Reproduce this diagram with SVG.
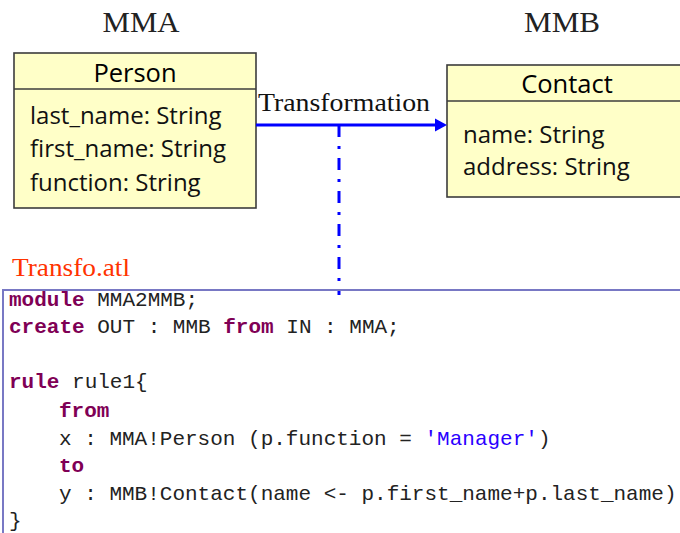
<svg xmlns="http://www.w3.org/2000/svg" width="680" height="533" viewBox="0 0 680 533">
<style>
.mm{font-family:"Liberation Serif",serif;font-size:30px;fill:#222;text-anchor:middle}
.box{fill:#ffffc8;stroke:#3c3c3c;stroke-width:1.6}
.hd{font-family:"Open Sans","Noto Sans",sans-serif;font-size:25.5px;fill:#000;text-anchor:middle}
.at{font-family:"Open Sans","Noto Sans",sans-serif;font-size:24px;fill:#111}
.code{font-family:"Liberation Mono",monospace;font-size:21px;fill:#222;white-space:pre}
.kw{fill:#7f0055;font-weight:bold}
.str{fill:#2a00ff}
</style>
<text class="mm" x="141" y="32" textLength="77" lengthAdjust="spacingAndGlyphs">MMA</text>
<text class="mm" x="562" y="32" textLength="76" lengthAdjust="spacingAndGlyphs">MMB</text>
<g id="person">
<rect class="box" x="14" y="53" width="242" height="155"/>
<line x1="14" y1="89" x2="256" y2="89" stroke="#3c3c3c" stroke-width="1.6"/>
<text class="hd" x="135" y="82">Person</text>
<text class="at" x="30" y="124">last_name: String</text>
<text class="at" x="30" y="157">first_name: String</text>
<text class="at" x="30" y="191">function: String</text>
</g>
<g id="contact">
<rect class="box" x="447" y="65" width="250" height="132"/>
<line x1="447" y1="101" x2="697" y2="101" stroke="#3c3c3c" stroke-width="1.6"/>
<text class="hd" x="567" y="93">Contact</text>
<text class="at" x="463" y="143">name: String</text>
<text class="at" x="463" y="175">address: String</text>
</g>
<g id="connectors">
<text x="258" y="111" font-family="Liberation Serif, serif" font-size="25" fill="#111" textLength="172" lengthAdjust="spacingAndGlyphs">Transformation</text>
<line x1="256" y1="125" x2="436" y2="125" stroke="#0000ff" stroke-width="3"/>
<polygon points="435,118.5 447,125 435,131.5" fill="#0000ff"/>
<line x1="339" y1="125" x2="339" y2="295" stroke="#0000ff" stroke-width="3" stroke-dasharray="12 9 3 9"/>
</g>
<g id="transfo">
<text x="12" y="276" font-family="Liberation Serif, serif" font-size="26" fill="#ff3300" textLength="118" lengthAdjust="spacingAndGlyphs">Transfo.atl</text>
<rect x="3" y="290" width="700" height="300" fill="none" stroke="#7878c4" stroke-width="2"/>
<text class="code" x="9" y="306"><tspan class="kw">module</tspan> MMA2MMB;</text>
<text class="code" x="9" y="333"><tspan class="kw">create</tspan> OUT : MMB <tspan class="kw">from</tspan> IN : MMA;</text>
<text class="code" x="9" y="388"><tspan class="kw">rule</tspan> rule1{</text>
<text class="code" x="59" y="417"><tspan class="kw">from</tspan></text>
<text class="code" x="59" y="445">x : MMA!Person (p.function = <tspan class="str">'Manager'</tspan>)</text>
<text class="code" x="59" y="472"><tspan class="kw">to</tspan></text>
<text class="code" x="59" y="500">y : MMB!Contact(name &lt;- p.first_name+p.last_name)</text>
<text class="code" x="9" y="527">}</text>
</g>
</svg>
